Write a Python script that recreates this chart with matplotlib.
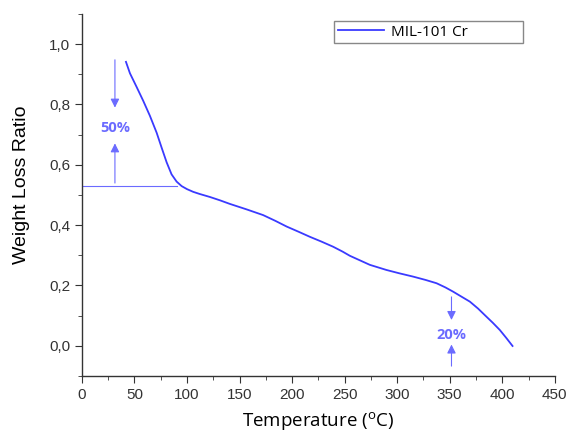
import matplotlib.pyplot as plt

# TGA curve
temperature = [41.9, 45.7, 52.0, 58.3, 64.7, 71.1, 75.8, 80.6, 85.3, 90.1,
               94.9, 100.0, 105.9, 112.0, 121.8, 131.3, 140.8, 156.6, 172.4,
               184.0, 194.8, 206.0, 216.9, 228.0, 239.1, 248.0, 255.0, 264.5,
               274.0, 289.8, 302.0, 315.2, 327.0, 337.5, 346.0, 353.3, 361.0,
               369.2, 377.0, 385.0, 391.0, 397.7, 404.0, 409.8]
weight = [0.941, 0.903, 0.858, 0.812, 0.762, 0.706, 0.657, 0.608, 0.568, 0.544,
          0.529, 0.519, 0.510, 0.503, 0.493, 0.482, 0.470, 0.452, 0.433,
          0.414, 0.395, 0.378, 0.361, 0.345, 0.328, 0.312, 0.298, 0.283,
          0.268, 0.251, 0.240, 0.229, 0.218, 0.207, 0.193, 0.179, 0.163,
          0.146, 0.123, 0.096, 0.076, 0.052, 0.025, -0.001]
series_name = 'MIL-101 Cr'
step_labels = ['50%', '20%']

line_color = '#3a3aff'
note_color = '#6b6bff'


def main():
    fig = plt.figure(figsize=(5.69, 4.34), dpi=100)
    ax = fig.add_axes([0.144, 0.134, 0.831, 0.834])

    ax.plot(temperature, weight, color=line_color, lw=1.3, label=series_name)

    ax.set_xlim(0, 450)
    ax.set_ylim(-0.1, 1.1)
    ax.set_xticks(range(0, 451, 50))
    ax.set_xticks(range(25, 450, 50), minor=True)
    ax.set_yticks([0.0, 0.2, 0.4, 0.6, 0.8, 1.0])
    ax.set_yticks([-0.1, 0.1, 0.3, 0.5, 0.7, 0.9, 1.1], minor=True)
    ax.set_yticklabels([f'{v:.1f}'.replace('.', ',') for v in ax.get_yticks()])
    ax.spines['top'].set_visible(False)
    ax.spines['right'].set_visible(False)
    for s in ('left', 'bottom'):
        ax.spines[s].set_color('#333333')
        ax.spines[s].set_linewidth(1.0)
    ax.tick_params(which='major', direction='out', length=5, colors='#333333',
                   labelsize=11, labelcolor='#333333')
    ax.tick_params(which='minor', direction='out', length=3, colors='#333333')
    for lab in ax.get_xticklabels() + ax.get_yticklabels():
        lab.set_family('Liberation Sans')

    ax.set_xlabel('Temperature ($\\mathregular{^o}$C)', family='Open Sans',
                  fontsize=13.5, labelpad=6)
    ax.set_ylabel('Weight Loss Ratio', family='Liberation Sans', fontsize=14)
    ax.yaxis.set_label_coords(-0.11, 0.527)

    # 50% step
    ax.plot([0, 90], [0.530, 0.530], color=note_color, lw=0.8)
    arrow = dict(arrowstyle='-|>', color=note_color, lw=0.8, mutation_scale=13)
    ax.annotate('', xy=(31.4, 0.78), xytext=(31.4, 0.957), arrowprops=arrow)
    ax.annotate('', xy=(31.4, 0.68), xytext=(31.4, 0.530), arrowprops=arrow)
    ax.text(31.4, 0.722, step_labels[0], color=note_color, fontsize=10.5,
            weight='bold', family='Open Sans', ha='center', va='center')

    # 20% step
    ax.annotate('', xy=(351.7, 0.076), xytext=(351.7, 0.171), arrowprops=arrow)
    ax.annotate('', xy=(351.7, 0.013), xytext=(351.7, -0.077), arrowprops=arrow)
    ax.text(351.7, 0.035, step_labels[1], color=note_color, fontsize=10.5,
            weight='bold', family='Open Sans', ha='center', va='center')

    leg = ax.legend(loc='upper left', bbox_to_anchor=(0.533, 0.91, 0.399, 0.071),
                    mode='expand', prop={'family': 'Open Sans', 'size': 11},
                    fancybox=False, edgecolor='#888888', framealpha=1,
                    handlelength=3.0, borderpad=0.25, borderaxespad=0,
                    handletextpad=0.5)
    leg.get_frame().set_linewidth(1.0)

    fig.savefig('out.png', dpi=100)


if __name__ == "__main__":
    main()
